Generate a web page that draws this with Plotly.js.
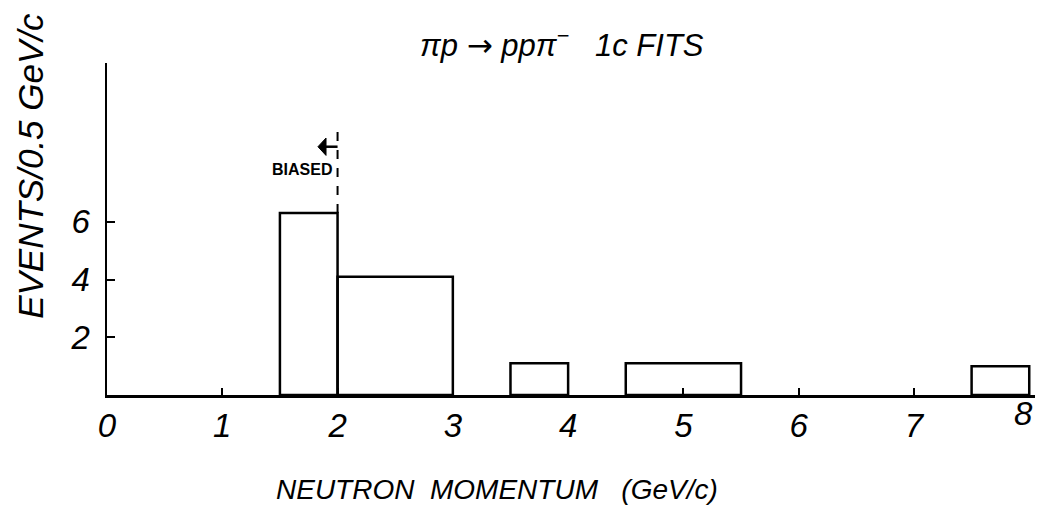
<!DOCTYPE html>
<html>
<head>
<meta charset="utf-8">
<script src="https://cdn.plot.ly/plotly-3.0.1.min.js"></script>
<style>html,body{margin:0;padding:0;background:#fff;}#chart{width:1039px;height:511px;}</style>
</head>
<body>
<div id="chart"></div>
<script>
// Histogram bins (GeV/c) and events per 0.5 GeV/c
const binStart = [1.5, 2.0, 3.5, 4.5, 7.5];
const binEnd   = [2.0, 3.0, 4.0, 5.5, 8.0];
const events   = [6.3, 4.1, 1.1, 1.1, 1.0];
const xTicks = [0, 1, 2, 3, 4, 5, 6, 7];
const xLastTick = 8;      // labelled at the right edge
const yTicks = [2, 4, 6];
const biasCut = 2.0;      // momentum below which events are biased
const biasLineTop = 9.2;  // top of dashed marker line (events)
const arrowLevel = 8.6;   // height of the "biased" arrow (events)
const arrowLen = 0.17;    // arrow length (GeV/c)

const centers = binStart.map((s, i) => (s + binEnd[i]) / 2);
const widths = binStart.map((s, i) => binEnd[i] - s);

const font = {family: 'Liberation Sans, Arial, sans-serif', color: '#000', style: 'italic'};
const f = (o) => Object.assign({}, font, o);

const trace = {
  type: 'bar',
  x: centers,
  y: events,
  width: widths,
  marker: {color: 'rgba(255,255,255,0)', line: {color: '#000', width: 2.5}},
  hoverinfo: 'x+y'
};

const ax0 = biasCut - arrowLen;
const headW = 0.07, headH = 0.3;

const layout = {
  width: 1039, height: 511,
  margin: {l: 107, r: 4, t: 63, b: 116},
  paper_bgcolor: '#fff', plot_bgcolor: '#fff',
  showlegend: false,
  font: font,
  xaxis: {
    range: [0, 8.05], showgrid: false, zeroline: false,
    showline: true, linecolor: '#000', linewidth: 2.5,
    tickmode: 'array', tickvals: xTicks, ticktext: xTicks.map(String),
    ticks: 'inside', ticklen: 7, tickwidth: 2, tickcolor: '#000',
    tickfont: f({size: 33}),
    ticklabelstandoff: 0
  },
  yaxis: {
    range: [0, 11.5], showgrid: false, zeroline: false,
    showline: true, linecolor: '#000', linewidth: 2.5,
    tickmode: 'array', tickvals: yTicks, ticktext: yTicks.map(String),
    ticks: 'inside', ticklen: 8, tickwidth: 2, tickcolor: '#000',
    tickfont: f({size: 33}),
    ticklabelstandoff: 8
  },
  shapes: [
    {type: 'line', xref: 'x', yref: 'y',
     x0: biasCut, x1: biasCut, y0: events[0], y1: biasLineTop,
     line: {color: '#000', width: 2, dash: 'dash'}},
    {type: 'line', xref: 'x', yref: 'y',
     x0: ax0 + 0.03, x1: biasCut, y0: arrowLevel, y1: arrowLevel,
     line: {color: '#000', width: 2.5}},
    {type: 'path', xref: 'x', yref: 'y',
     path: `M ${ax0} ${arrowLevel} L ${ax0 + headW} ${arrowLevel + headH} L ${ax0 + headW} ${arrowLevel - headH} Z`,
     fillcolor: '#000', line: {color: '#000', width: 1}}
  ],
  annotations: [
    {xref: 'x', yref: 'paper', x: xLastTick, y: 0, xanchor: 'right', yanchor: 'top',
     xshift: 6, yshift: 2, text: String(xLastTick), showarrow: false,
     font: f({size: 33})},
    {xref: 'paper', yref: 'paper', x: -0.082, y: 0.69, xanchor: 'center', yanchor: 'middle',
     text: 'EVENTS/0.5 GeV/c', textangle: -90, showarrow: false,
     font: f({size: 35})},
    {xref: 'paper', yref: 'paper', x: 0.42, y: -0.285, xanchor: 'center', yanchor: 'middle',
     text: 'NEUTRON  MOMENTUM   (GeV/c)', showarrow: false,
     font: f({size: 28})},
    {xref: 'paper', yref: 'paper', x: 0.335, y: 1.06, xanchor: 'left', yanchor: 'middle',
     text: 'πp <span style="font-family:DejaVu Sans">→</span> ppπ<sup>−</sup>   1c FITS', showarrow: false,
     font: f({size: 31})},
    {xref: 'x', yref: 'y', x: biasCut - 0.03, y: 7.8, xanchor: 'right', yanchor: 'middle',
     text: '<b>BIASED</b>', showarrow: false,
     font: f({size: 16, style: 'normal'})}
  ]
};

Plotly.newPlot('chart', [trace], layout, {displayModeBar: false, staticPlot: true});
</script>
</body>
</html>
